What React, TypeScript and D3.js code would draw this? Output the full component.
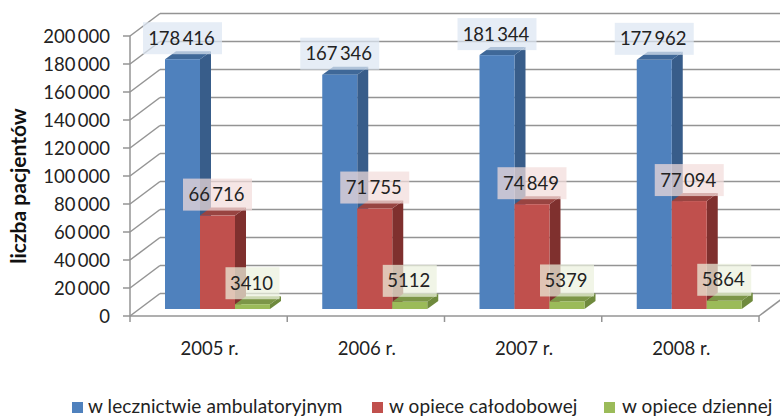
import React from "react";
import * as d3 from "d3";

const years = ["2005 r.", "2006 r.", "2007 r.", "2008 r."];
const seriesNames = ["w lecznictwie ambulatoryjnym", "w opiece całodobowej", "w opiece dziennej"];
const ambulatory = [178416, 167346, 181344, 177962];
const fullDay = [66716, 71755, 74849, 77094];
const dayCare = [3410, 5112, 5379, 5864];
const yTicks = [0, 20000, 40000, 60000, 80000, 100000, 120000, 140000, 160000, 180000, 200000];

const front = ["#4F81BD", "#C0504D", "#9BBB59"];
const side = ["#385D8A", "#7F302E", "#6F8A3D"];
const topFace = ["#3F6898", "#984441", "#7C9647"];
const tint = ["#DCE6F2", "#F2DCDB", "#EBF1DE"];
const legendSwatchX = [72, 372, 604];
const legendTextX = [88, 389, 622];
const font = "Lato, Carlito, sans-serif";
const grey = "#949494";
const ink = "#222";

const WALL_DX = 30;
const WALL_DY = -22.5;
const BAR_DX = 11;
const BAR_DY = -8;
const BAR_LIFT = -7;

const x = d3.scaleBand<string>().domain(years).range([130, 759]);
const y = d3.scaleLinear().domain([0, 200000]).range([316, 36]);
const inner = d3.scaleBand<number>().domain([0, 1, 2]).range([35, 140]);
const fmt = (v: number) => (v < 10000 ? String(v) : d3.format(",")(v).replace(",", "\u2009"));
const tickFmt = (v: number) => d3.format(",")(v).replace(",", "\u2009");

const allSeries = [ambulatory, fullDay, dayCare];
const bars = allSeries.flatMap((vals, s) =>
  vals.map((v, i) => {
    const x0 = x(years[i])! + inner(s)!;
    const w = inner.bandwidth();
    const base = y(0) + BAR_LIFT;
    const top = y(v) + BAR_LIFT;
    return { s, v, x0, w, base, top };
  })
);

export default function App() {
  return (
    <svg width={780} height={416} style={{ position: "absolute", left: 0, top: 0, background: "#fff" }} fontFamily={font}>
      {yTicks.map((t) => (
        <g key={t} stroke={grey} strokeWidth={1.5} fill="none">
          <line x1={123} x2={130} y1={y(t)} y2={y(t)} />
          <line x1={130} x2={130 + WALL_DX} y1={y(t)} y2={y(t) + WALL_DY} />
          <line x1={130 + WALL_DX} x2={780} y1={y(t) + WALL_DY} y2={y(t) + WALL_DY} />
        </g>
      ))}
      <g stroke={grey} strokeWidth={1.5}>
        <line x1={130} x2={130} y1={y(0)} y2={y(200000)} />
        <line x1={130} x2={759} y1={y(0)} y2={y(0)} />
        <line x1={759} x2={759 + WALL_DX} y1={y(0)} y2={y(0) + WALL_DY} />
        {[...years.map((d) => x(d)!), 759].map((p) => (
          <line key={p} x1={p} x2={p} y1={y(0)} y2={y(0) + 6} />
        ))}
      </g>
      {bars.map((b, i) => (
        <g key={i}>
          <polygon
            points={`${b.x0 + b.w},${b.top} ${b.x0 + b.w + BAR_DX},${b.top + BAR_DY} ${b.x0 + b.w + BAR_DX},${b.base + BAR_DY} ${b.x0 + b.w},${b.base}`}
            fill={side[b.s]}
          />
          <polygon
            points={`${b.x0},${b.top} ${b.x0 + BAR_DX},${b.top + BAR_DY} ${b.x0 + b.w + BAR_DX},${b.top + BAR_DY} ${b.x0 + b.w},${b.top}`}
            fill={topFace[b.s]}
          />
          <rect x={b.x0} y={b.top} width={b.w} height={b.base - b.top} fill={front[b.s]} />
        </g>
      ))}
      {bars.map((b, i) => {
        const cx = b.x0 + b.w / 2;
        const cy = b.top - 21;
        const bw = b.v > 100000 ? 79 : b.v > 10000 ? 69 : 54;
        return (
          <g key={i}>
            <rect x={cx - bw / 2} y={cy - 16} width={bw} height={32} fill={tint[b.s]} fillOpacity={0.72} />
            <text x={cx - 1} y={cy + 6.5} textAnchor="middle" fontSize={18.5} fill={ink}>
              {fmt(b.v)}
            </text>
          </g>
        );
      })}
      {yTicks.map((t) => (
        <text key={t} x={110} y={y(t) + 6.5} textAnchor="end" fontSize={18.5} fill={ink}>
          {tickFmt(t)}
        </text>
      ))}
      <text
        transform="translate(26,186) rotate(-90)"
        textAnchor="middle"
        fontSize={21}
        fontWeight={700}
        fill="#111"
      >
        liczba pacjentów
      </text>
      {years.map((d) => (
        <text key={d} x={x(d)! + x.bandwidth() / 2 + 1} y={355} textAnchor="middle" fontSize={18.5} fill={ink}>
          {d}
        </text>
      ))}
      {seriesNames.map((n, i) => (
        <g key={n}>
          <rect x={legendSwatchX[i]} y={402} width={11} height={11} fill={front[i]} />
          <text x={legendTextX[i]} y={413} fontSize={19} letterSpacing={0.1} fill={ink}>
            {n}
          </text>
        </g>
      ))}
    </svg>
  );
}
